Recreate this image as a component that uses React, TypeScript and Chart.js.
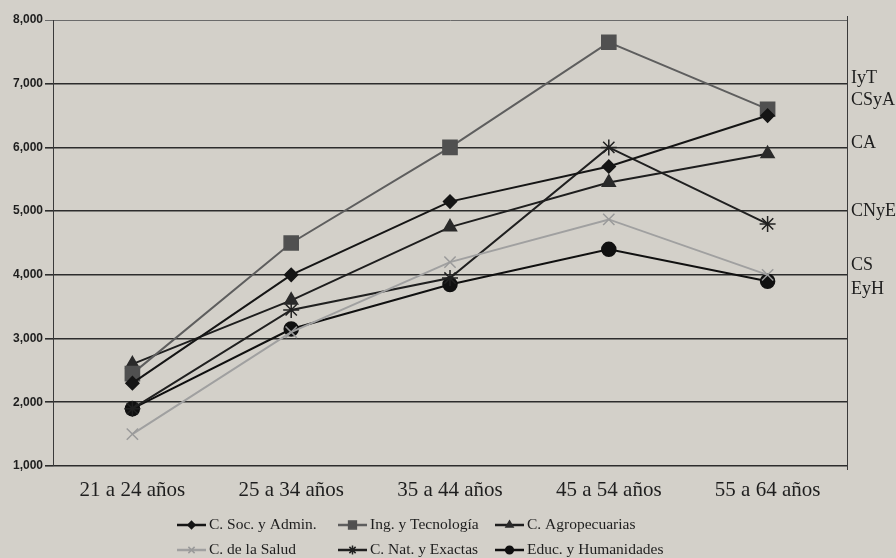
import { useEffect, useRef } from 'react';
import { Chart, registerables } from 'chart.js';
import { drawPoint } from 'chart.js/helpers';

Chart.register(...registerables);

const categories = ['21 a 24 años', '25 a 34 años', '35 a 44 años', '45 a 54 años', '55 a 64 años'];
const seriesNames = [
  'C. Soc. y Admin.',
  'Ing. y Tecnología',
  'C. Agropecuarias',
  'C. de la Salud',
  'C. Nat. y Exactas',
  'Educ. y Humanidades',
];
const socAdmin = [2300, 4000, 5150, 5700, 6500];
const ingTec = [2450, 4500, 6000, 7650, 6600];
const agro = [2600, 3600, 4750, 5450, 5900];
const salud = [1500, 3100, 4200, 4870, 4000];
const natExactas = [1900, 3450, 3950, 6000, 4800];
const educHum = [1900, 3150, 3850, 4400, 3900];
const yMin = 1000;
const yMax = 8000;
const yStep = 1000;
const rightLabels = ['IyT', 'CSyA', 'CA', 'CNyE', 'CS', 'EyH'];
const rightLabelValues = [7090, 6740, 6070, 5000, 4150, 3780];

const BG = '#d3d0c9';
const INK = '#1e1e1e';

const styles = [
  { color: '#151515', point: 'rectRot', radius: 6.5, pointColor: '#151515' },
  { color: '#5e5e5e', point: 'rect', radius: 10, pointColor: '#505050' },
  { color: '#1e1e1e', point: 'triangle', radius: 7.5, pointColor: '#2a2a2a' },
  { color: '#a0a0a0', point: 'crossRot', radius: 8, pointColor: '#9a9a9a' },
  { color: '#202020', point: 'star', radius: 8, pointColor: '#202020' },
  { color: '#101010', point: 'circle', radius: 7, pointColor: '#101010' },
];

const seriesData = [socAdmin, ingTec, agro, salud, natExactas, educHum];

const bgPlugin = {
  id: 'bgPlugin',
  beforeDraw(chart: any) {
    const { ctx, width, height } = chart;
    ctx.save();
    ctx.fillStyle = BG;
    ctx.fillRect(0, 0, width, height);
    ctx.restore();
  },
};

const frameAndLabelsPlugin = {
  id: 'frameAndLabels',
  beforeDatasetsDraw(chart: any) {
    const { ctx, chartArea } = chart;
    ctx.save();
    ctx.strokeStyle = '#3a3a3a';
    ctx.lineWidth = 1;
    ctx.beginPath();
    ctx.moveTo(chartArea.right + 0.5, chartArea.top - 4);
    ctx.lineTo(chartArea.right + 0.5, chartArea.bottom + 4);
    ctx.stroke();
    ctx.restore();
  },
  afterDraw(chart: any) {
    const { ctx, chartArea } = chart;
    const yScale = chart.scales.y;
    ctx.save();
    ctx.fillStyle = INK;
    ctx.font = '18px "Liberation Serif", serif';
    ctx.textAlign = 'left';
    ctx.textBaseline = 'middle';
    rightLabels.forEach((t, i) => {
      ctx.fillText(t, chartArea.right + 4, yScale.getPixelForValue(rightLabelValues[i]));
    });

    // legend, 3 columns x 2 rows
    const colX = [177, 338, 495];
    const rowY = [525, 550];
    ctx.font = '15.5px "Liberation Serif", serif';
    ctx.textBaseline = 'middle';
    chart.data.datasets.forEach((ds: any, i: number) => {
      const col = i % 3;
      const row = Math.floor(i / 3);
      const x = colX[col];
      const y = rowY[row];
      ctx.strokeStyle = ds.borderColor;
      ctx.lineWidth = 2.5;
      ctx.beginPath();
      ctx.moveTo(x, y);
      ctx.lineTo(x + 29, y);
      ctx.stroke();
      ctx.fillStyle = ds.pointBackgroundColor;
      ctx.strokeStyle = ds.pointBorderColor;
      ctx.lineWidth = 1.5;
      drawPoint(
        ctx,
        {
          pointStyle: ds.pointStyle,
          radius: ds.pointRadius * 0.55,
          rotation: 0,
          borderWidth: 1.5,
        } as any,
        x + 14.5,
        y
      );
      ctx.fillStyle = INK;
      ctx.fillText(ds.label, x + 32, y);
    });
    ctx.restore();
  },
};

export default function App() {
  const canvasRef = useRef<HTMLCanvasElement | null>(null);

  useEffect(() => {
    if (!canvasRef.current) return;
    const chart = new Chart(canvasRef.current, {
      type: 'line',
      data: {
        labels: categories,
        datasets: seriesData.map((d, i) => ({
          label: seriesNames[i],
          data: d,
          borderColor: styles[i].color,
          borderWidth: 2,
          backgroundColor: styles[i].pointColor,
          pointStyle: styles[i].point as any,
          pointRadius: styles[i].radius,
          pointBackgroundColor: styles[i].pointColor,
          pointBorderColor: styles[i].pointColor,
          pointBorderWidth: 1.5,
          tension: 0,
          fill: false,
        })),
      },
      options: {
        responsive: true,
        maintainAspectRatio: false,
        animation: false,
        layout: { padding: { top: 20, right: 49, left: 0, bottom: 0 } },
        plugins: {
          legend: { display: false },
          tooltip: { enabled: false },
        },
        scales: {
          x: {
            offset: true,
            grid: { display: false, drawTicks: false },
            border: { display: false },
            ticks: {
              color: INK,
              padding: 12,
              font: { family: '"Liberation Serif", serif', size: 21 },
            },
            afterFit: (s: any) => {
              s.height = 92;
            },
          },
          y: {
            min: yMin,
            max: yMax,
            ticks: {
              stepSize: yStep,
              autoSkip: false,
              color: INK,
              padding: 2,
              font: { family: '"Liberation Sans", Arial, sans-serif', size: 12, weight: 'bold' },
              callback: (v: any) => Number(v).toLocaleString('en-US'),
            },
            grid: {
              color: (c: any) => (c.tick && c.tick.value === yMax ? '#6a6a6a' : '#2c2c2c'),
              lineWidth: (c: any) => (c.tick && c.tick.value === yMax ? 1 : 1.6),
              tickLength: 8,
              drawTicks: true,
            },
            border: { color: '#3a3a3a', width: 1 },
            afterFit: (s: any) => {
              s.width = 53;
            },
          },
        },
      },
      plugins: [bgPlugin, frameAndLabelsPlugin],
    });
    return () => chart.destroy();
  }, []);

  return (
    <div style={{ position: 'fixed', left: 0, top: 0, width: 896, height: 558, background: BG }}>
      <canvas ref={canvasRef} />
    </div>
  );
}
